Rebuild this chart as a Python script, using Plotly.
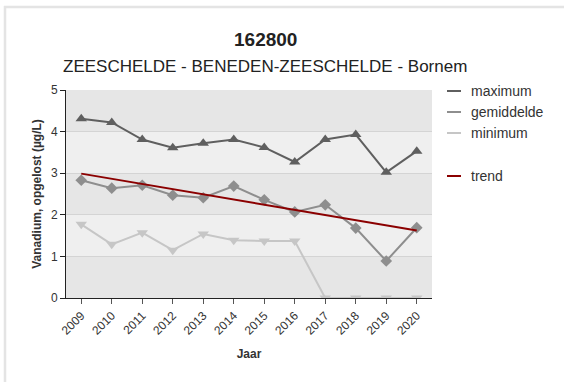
import plotly.graph_objects as go

# Jaarlijkse statistieken vanadium (opgelost), meetpunt 162800
jaren = ["2009", "2010", "2011", "2012", "2013", "2014", "2015", "2016",
         "2017", "2018", "2019", "2020"]
maximum = [4.31, 4.22, 3.81, 3.61, 3.72, 3.81, 3.62, 3.27, 3.81, 3.93, 3.02, 3.53]
gemiddelde = [2.83, 2.64, 2.71, 2.47, 2.41, 2.69, 2.36, 2.07, 2.24, 1.68, 0.89, 1.69]
minimum = [1.77, 1.29, 1.57, 1.15, 1.54, 1.39, 1.37, 1.37, 0, 0, 0, 0]
trend_jaren = ["2009", "2020"]
trend_waarden = [2.99, 1.62]

y_ticks = [0, 1, 2, 3, 4, 5]

W, H = 564, 382
L, R, T, B = 66, 132, 90, 84
PW, PH = W - L - R, H - T - B


def px_x(px):
    return (px - L) / PW


def px_y(py):
    return (H - B - py) / PH


FONT = "Liberation Sans, Arial, sans-serif"
C_MAX, C_GEM, C_MIN, C_TREND = "#5f5f5f", "#8e8e8e", "#c6c6c6", "#8b0000"

fig = go.Figure()
fig.add_trace(go.Scatter(x=jaren, y=maximum, mode="lines+markers", name="maximum",
                         line=dict(color=C_MAX, width=2),
                         marker=dict(symbol="triangle-up", size=10, color=C_MAX)))
fig.add_trace(go.Scatter(x=jaren, y=gemiddelde, mode="lines+markers", name="gemiddelde",
                         line=dict(color=C_GEM, width=2),
                         marker=dict(symbol="diamond", size=9, color=C_GEM)))
fig.add_trace(go.Scatter(x=jaren, y=minimum, mode="lines+markers", name="minimum",
                         line=dict(color=C_MIN, width=2),
                         marker=dict(symbol="triangle-down", size=10, color=C_MIN)))
fig.add_trace(go.Scatter(x=trend_jaren, y=trend_waarden, mode="lines", name="trend",
                         line=dict(color=C_TREND, width=2)))

shapes = []
# alternerende achtergrondbanden
for i in range(5):
    shapes.append(dict(type="rect", xref="paper", yref="y", x0=0, x1=1, y0=i, y1=i + 1,
                       fillcolor="#e6e6e6" if i % 2 == 0 else "#efefef",
                       line=dict(width=0), layer="below"))
# kader rond de figuur (boven en links)
shapes.append(dict(type="line", xref="paper", yref="paper",
                   x0=px_x(4), x1=px_x(W), y0=px_y(7), y1=px_y(7),
                   line=dict(color="#e4e4e4", width=2.5)))
shapes.append(dict(type="line", xref="paper", yref="paper",
                   x0=px_x(5), x1=px_x(5), y0=px_y(6), y1=px_y(H),
                   line=dict(color="#e4e4e4", width=2.5)))

# legende
legend_items = [("maximum", C_MAX, 91), ("gemiddelde", C_GEM, 112),
                ("minimum", C_MIN, 133), ("trend", C_TREND, 176)]
annotations = []
for naam, kleur, ypx in legend_items:
    shapes.append(dict(type="line", xref="paper", yref="paper",
                       x0=px_x(447), x1=px_x(461), y0=px_y(ypx), y1=px_y(ypx),
                       line=dict(color=kleur, width=2)))
    annotations.append(dict(text=naam, xref="paper", yref="paper",
                            x=px_x(469), y=px_y(ypx), xanchor="left", yanchor="middle",
                            showarrow=False, font=dict(family=FONT, size=14, color="#333333")))

# titels
annotations.append(dict(text="<b>162800</b>", xref="paper", yref="paper",
                        x=px_x(265), y=px_y(39), xanchor="center", yanchor="middle",
                        showarrow=False, font=dict(family=FONT, size=19, color="#222222")))
annotations.append(dict(text="ZEESCHELDE - BENEDEN-ZEESCHELDE - Bornem", xref="paper", yref="paper",
                        x=px_x(265), y=px_y(67), xanchor="center", yanchor="middle",
                        showarrow=False, font=dict(family=FONT, size=17, color="#222222")))

fig.update_layout(
    width=W, height=H,
    margin=dict(l=L, r=R, t=T, b=B),
    paper_bgcolor="white", plot_bgcolor="#e6e6e6",
    showlegend=False,
    shapes=shapes, annotations=annotations,
    font=dict(family=FONT, color="#333333"),
)
fig.update_xaxes(
    type="category", categoryorder="array", categoryarray=jaren,
    range=[-0.5, len(jaren) - 0.5],
    tickangle=-45, tickfont=dict(size=12, color="#333333"),
    ticks="outside", ticklen=5, tickcolor="#555555",
    showline=True, linecolor="#222222", linewidth=1,
    showgrid=False, zeroline=False,
    title=dict(text="<b>Jaar</b>", font=dict(size=12, color="#333333"), standoff=12),
)
fig.update_yaxes(
    range=[0, 5], tickvals=y_ticks,
    tickfont=dict(size=12, color="#333333"),
    ticks="outside", ticklen=5, tickcolor="#222222",
    showline=True, linecolor="#222222", linewidth=1,
    showgrid=True, gridcolor="#d4d4d4", gridwidth=1, zeroline=False,
    title=dict(text="<b>Vanadium, opgelost (µg/L)</b>", font=dict(size=12, color="#333333"),
               standoff=6),
)

fig.write_html("out.html")
